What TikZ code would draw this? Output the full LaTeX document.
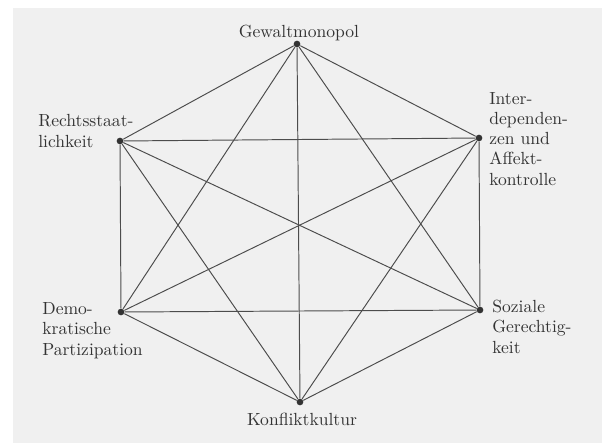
\documentclass[tikz,border=0pt]{standalone}
\usetikzlibrary{positioning}

\begin{document}
\begin{tikzpicture}[
    x=0.02cm, y=-0.02cm,
    dot/.style={circle, fill=black!80, inner sep=0pt, minimum size=3.8pt},
    termtext/.style={inner sep=0pt, align=left, text=black!80,
                font=\fontsize{10}{11.5}\selectfont},
    link/.style={draw=black!70, line width=0.55pt}
]

%% PAPIER
\fill[white] (0,0) rectangle (602,443);
\fill[black!6] (13,8) rectangle (602,443);
\useasboundingbox (0,0) rectangle (602,443);

%% ECKPUNKTE
\node[dot] (gm) at (297,44) {};
\node[dot] (rs) at (120,141) {};
\node[dot] (ia) at (479,138) {};
\node[dot] (dp) at (121,312) {};
\node[dot] (sg) at (480,310) {};
\node[dot] (kk) at (300,402) {};

%% BEGRIFFE
\node[termtext, anchor=base] (gm_txt) at (299,37) {Gewaltmonopol};
\node[termtext, anchor=base west] (rs_txt) at (38,147) {Rechtsstaat-\\lichkeit};
\node[termtext, anchor=base west] (ia_txt) at (489,185) {Inter-\\dependen-\\zen und\\Affekt-\\kontrolle};
\node[termtext, anchor=base west] (dp_txt) at (42,355) {Demo-\\kratische\\Partizipation};
\node[termtext, anchor=base west] (sg_txt) at (492,353) {Soziale\\Gerechtig-\\keit};
\node[termtext, anchor=base] (kk_txt) at (302,425) {Konfliktkultur};

%% VERBINDUNGEN
\draw[link] (gm) -- (rs);
\draw[link] (gm) -- (ia);
\draw[link] (gm) -- (dp);
\draw[link] (gm) -- (sg);
\draw[link] (gm) -- (kk);
\draw[link] (rs) -- (ia);
\draw[link] (rs) -- (dp);
\draw[link] (rs) -- (sg);
\draw[link] (rs) -- (kk);
\draw[link] (ia) -- (dp);
\draw[link] (ia) -- (sg);
\draw[link] (ia) -- (kk);
\draw[link] (dp) -- (sg);
\draw[link] (dp) -- (kk);
\draw[link] (sg) -- (kk);

\end{tikzpicture}
\end{document}
